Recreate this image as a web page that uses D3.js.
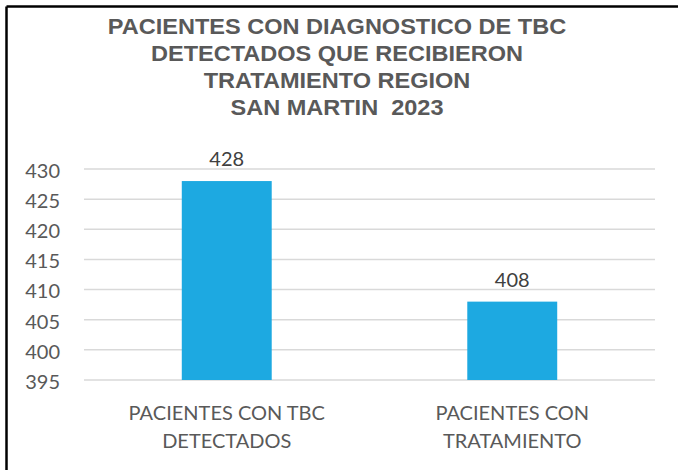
<!DOCTYPE html>
<html>
<head>
<meta charset="utf-8">
<script src="https://cdn.jsdelivr.net/npm/d3@7"></script>
<style>
  html, body { margin: 0; padding: 0; background: #fff; }
  svg { display: block; }
  text { white-space: pre; }
</style>
</head>
<body>
<svg id="chart" width="678" height="470"></svg>
<script>
const titleLines = ["PACIENTES CON DIAGNOSTICO DE TBC", "DETECTADOS QUE RECIBIERON", "TRATAMIENTO REGION", "SAN MARTIN  2023"];
const categories = [["PACIENTES CON TBC", "DETECTADOS"], ["PACIENTES CON", "TRATAMIENTO"]];
const values = [428, 408];
const yTicks = [395, 400, 405, 410, 415, 420, 425, 430];

(function () {
const svg = d3.select("#chart");
const W = 678, H = 470;
const mLeft = 84, mRight = 655, mTop = 169, mBottom = 380;

svg.append("rect").attr("width", W).attr("height", H).attr("fill", "#fff");

// frame (top and left edges visible)
svg.append("line").attr("x1", 6.5).attr("x2", W).attr("y1", 6.5).attr("y2", 6.5)
  .attr("stroke", "#000").attr("stroke-width", 2.5);
svg.append("line").attr("x1", 6.5).attr("x2", 6.5).attr("y1", 6.5).attr("y2", H)
  .attr("stroke", "#000").attr("stroke-width", 2.5);

// title
const title = svg.append("text")
  .attr("text-anchor", "middle")
  .attr("transform", "translate(337,0) scale(1.07,1)")
  .attr("font-family", "'Liberation Sans', Arial, sans-serif")
  .attr("font-weight", "bold")
  .attr("font-size", 22)
  .attr("fill", "#595959");
titleLines.forEach((t, i) => {
  title.append("tspan").attr("x", 0).attr("y", 34 + i * 27).text(t);
});

const y = d3.scaleLinear().domain([395, 430]).range([mBottom, mTop]);
const x = d3.scaleBand().domain(d3.range(values.length)).range([mLeft, mRight]).padding(0);
const barW = x.bandwidth() * 0.315;

// gridlines
svg.append("g").selectAll("line").data(yTicks).join("line")
  .attr("x1", mLeft).attr("x2", mRight)
  .attr("y1", d => y(d)).attr("y2", d => y(d))
  .attr("stroke", "#D9D9D9").attr("stroke-width", 1.5);

// y axis labels
const yAxis = d3.axisLeft(y).tickValues(yTicks).tickSize(0).tickPadding(0);
const gy = svg.append("g").attr("transform", "translate(60,0)").call(yAxis);
gy.select(".domain").remove();
gy.selectAll("text")
  .attr("font-family", "Lato, 'Open Sans', sans-serif")
  .attr("font-size", 20)
  .attr("fill", "#595959")
  .attr("dy", "0.42em");

// bars
svg.append("g").selectAll("rect").data(values).join("rect")
  .attr("x", (d, i) => x(i) + (x.bandwidth() - barW) / 2)
  .attr("width", barW)
  .attr("y", d => y(d))
  .attr("height", d => y(395) - y(d))
  .attr("fill", "#1DA9E1");

// data labels
svg.append("g").selectAll("text").data(values).join("text")
  .attr("x", (d, i) => x(i) + x.bandwidth() / 2)
  .attr("y", d => y(d) - 15)
  .attr("text-anchor", "middle")
  .attr("font-family", "Lato, 'Open Sans', sans-serif")
  .attr("font-size", 20)
  .attr("fill", "#404040")
  .text(d => d);

// x labels
const xl = svg.append("g").selectAll("text").data(categories).join("text")
  .attr("text-anchor", "middle")
  .attr("font-family", "Lato, 'Open Sans', sans-serif")
  .attr("font-size", 20)
  .attr("fill", "#595959");
xl.each(function(lines, i) {
  const t = d3.select(this);
  lines.forEach((l, j) => {
    t.append("tspan").attr("x", x(i) + x.bandwidth() / 2).attr("y", 420 + j * 28).text(l);
  });
});
})();
</script>
</body>
</html>
